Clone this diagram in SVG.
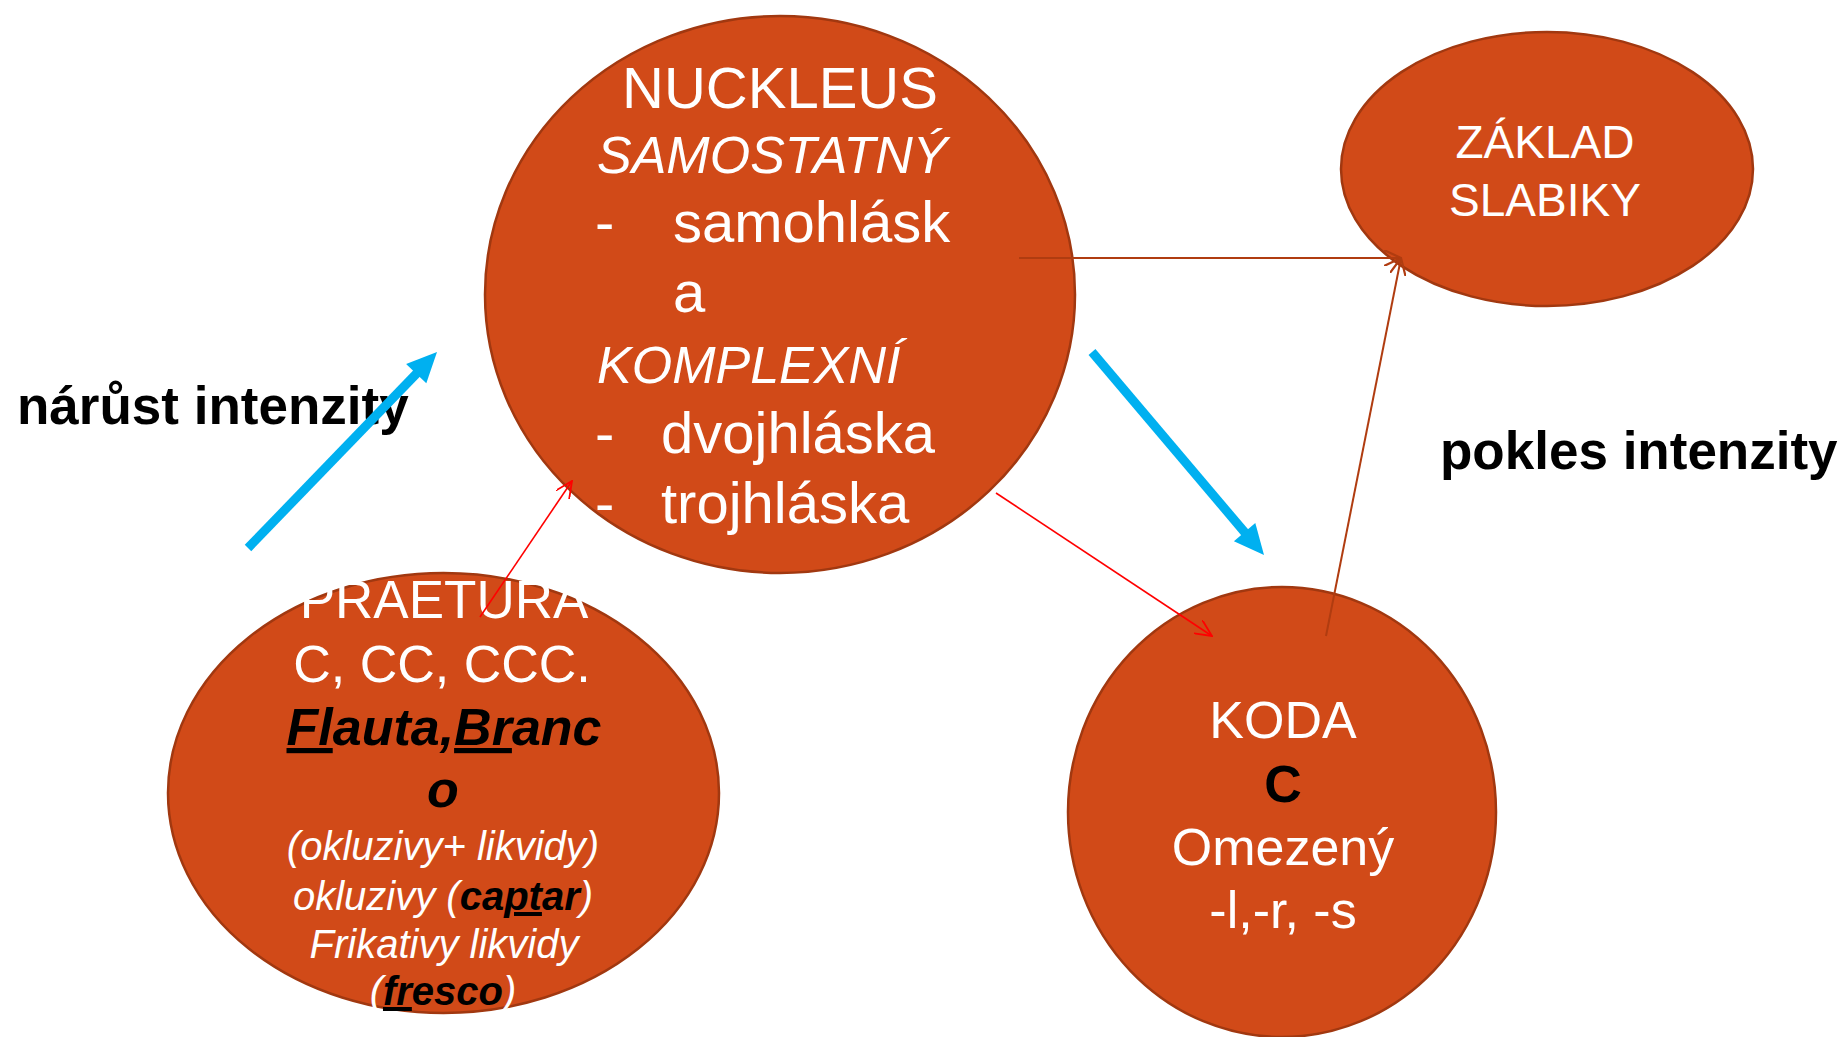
<svg xmlns="http://www.w3.org/2000/svg" width="1841" height="1037" viewBox="0 0 1841 1037">
<style>
  .node { fill: #D14A18; stroke: #A13810; stroke-width: 2.5; }
  text { font-family: "Liberation Sans", Arial, sans-serif; }
  .w { fill: #FFFFFF; }
  .k { fill: #000000; }
  .c { text-anchor: middle; }
  .i { font-style: italic; }
  .b { font-weight: bold; }
  .u { text-decoration: underline; text-decoration-thickness: 5px; text-underline-offset: 7px; }
  .lbl { font-weight: bold; font-size: 53px; fill: #000000; }
  .red { stroke: #FF0000; stroke-width: 1.6; fill: none; }
  .brown { stroke: #B03C10; stroke-width: 2; fill: none; }
  .blue { stroke: #00B0F0; stroke-width: 9; fill: none; }
  .bluehead { fill: #00B0F0; }
</style>
<defs>
  <marker id="arrRed" viewBox="0 0 18 16" refX="17" refY="8" markerWidth="18" markerHeight="16" markerUnits="userSpaceOnUse" orient="auto">
    <path d="M0,0 L17,8 L0,16" fill="none" stroke="#FF0000" stroke-width="1.8"/>
  </marker>
  <marker id="arrBrown" viewBox="0 0 18 16" refX="17" refY="8" markerWidth="18" markerHeight="16" markerUnits="userSpaceOnUse" orient="auto">
    <path d="M0,0 L17,8 L0,16" fill="none" stroke="#B03C10" stroke-width="2.2"/>
  </marker>
</defs>
<rect x="0" y="0" width="1841" height="1037" fill="#FFFFFF"/>

<g id="nucleus">
  <ellipse class="node" cx="780" cy="294.5" rx="295" ry="278.5"/>
  <text class="w c" x="780" y="108" font-size="58">NUCKLEUS</text>
  <text class="w i" x="597" y="173" font-size="52">SAMOSTATNÝ</text>
  <text class="w" x="595" y="242" font-size="58">-</text>
  <text class="w" x="673" y="242" font-size="58">samohlásk</text>
  <text class="w" x="673" y="312" font-size="58">a</text>
  <text class="w i" x="597" y="383" font-size="52">KOMPLEXNÍ</text>
  <text class="w" x="595" y="453" font-size="58">-</text>
  <text class="w" x="661" y="453" font-size="58">dvojhláska</text>
  <text class="w" x="595" y="523" font-size="58">-</text>
  <text class="w" x="661" y="523" font-size="58">trojhláska</text>
</g>

<g id="zaklad">
  <ellipse class="node" cx="1547" cy="169" rx="206" ry="137"/>
  <text class="w c" x="1545" y="158" font-size="46">ZÁKLAD</text>
  <text class="w c" x="1545" y="216" font-size="46">SLABIKY</text>
</g>

<g id="praetura">
  <ellipse class="node" cx="443.5" cy="793" rx="275.5" ry="220"/>
  <text class="w c" x="444" y="618" font-size="53">PRAETURA</text>
  <text class="w c" x="442" y="682" font-size="52">C, CC, CCC.</text>
  <text class="k c b i" x="444" y="745" font-size="52"><tspan class="u">Fl</tspan>auta,<tspan class="u">Br</tspan>anc</text>
  <text class="k c b i" x="443" y="807" font-size="52">o</text>
  <text class="w c i" x="443" y="860" font-size="40">(okluzivy+ likvidy)</text>
  <text class="w c i" x="443" y="910" font-size="40">okluzivy (<tspan class="k b">ca<tspan class="u">pt</tspan>ar</tspan>)</text>
  <text class="w c i" x="444" y="958" font-size="40">Frikativy likvidy</text>
  <text class="w c i" x="443" y="1005" font-size="40">(<tspan class="k b"><tspan class="u">fr</tspan>esco</tspan>)</text>
</g>

<g id="koda">
  <ellipse class="node" cx="1282" cy="812" rx="214" ry="225"/>
  <text class="w c" x="1283" y="738" font-size="52">KODA</text>
  <text class="k c b" x="1283" y="802" font-size="52">C</text>
  <text class="w c" x="1283" y="865" font-size="52">Omezený</text>
  <text class="w c" x="1283" y="928" font-size="52">-l,-r, -s</text>
</g>

<g id="label-narust">
  <text class="lbl" x="17" y="424">nárůst intenzity</text>
</g>
<g id="label-pokles">
  <text class="lbl" x="1440" y="469">pokles intenzity</text>
</g>

<g id="connectors">
  <line class="red" x1="480" y1="617" x2="572" y2="481" marker-end="url(#arrRed)"/>
  <line class="red" x1="996" y1="493" x2="1212" y2="636" marker-end="url(#arrRed)"/>
  <line class="brown" x1="1019" y1="258" x2="1401" y2="258" marker-end="url(#arrBrown)"/>
  <line class="brown" x1="1326" y1="636" x2="1401" y2="258" marker-end="url(#arrBrown)"/>
  <line class="blue" x1="248" y1="548" x2="419" y2="371"/>
  <polygon class="bluehead" points="437,352 426.3,383.3 406.1,363.9"/>
  <line class="blue" x1="1092" y1="352" x2="1247" y2="535"/>
  <polygon class="bluehead" points="1264,555 1233.9,541.2 1255.3,523.0"/>
</g>
</svg>
